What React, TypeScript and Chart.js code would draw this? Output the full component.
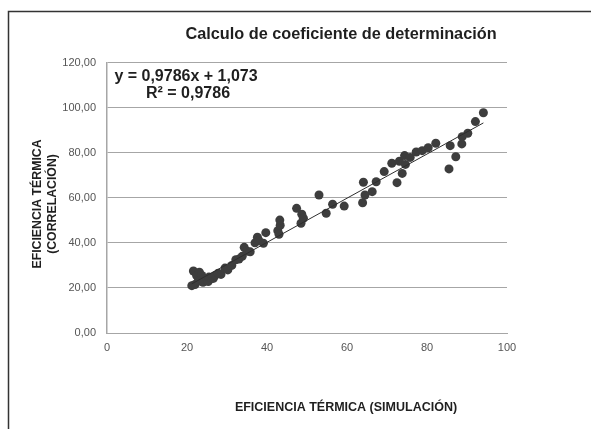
import React, { useEffect, useRef } from "react";
import { Chart, registerables } from "chart.js";

Chart.register(...registerables);

const TITLE = "Calculo de coeficiente de determinación";
const X_TITLE = "EFICIENCIA TÉRMICA (SIMULACIÓN)";
const Y_TITLE_LINES = ["EFICIENCIA TÉRMICA", "(CORRELACIÓN)"];
const EQUATION_LINES = ["y = 0,9786x + 1,073", "R² = 0,9786"];

const X_TICKS = [0, 20, 40, 60, 80, 100];
const Y_TICKS = [0, 20, 40, 60, 80, 100, 120];

// Simulation (x) values
const simX = [
  21.2, 22.0, 21.6, 22.4, 23.1, 23.7, 22.8, 24.0, 24.9, 25.3, 25.5, 26.2, 26.6, 27.0,
  27.8, 28.5, 29.5, 30.2, 31.2, 32.2, 33.0, 33.8, 34.3, 35.0, 35.8, 37.0, 37.6, 38.0,
  39.1, 39.7, 42.7, 43.0, 43.3, 43.2, 47.4, 48.5, 48.7, 49.1, 53.0, 54.8, 56.4, 59.3,
  63.9, 64.1, 64.5, 66.3, 67.3, 69.3, 71.2, 72.5, 73.1, 73.8, 74.4, 74.6, 75.8, 77.3,
  78.8, 80.3, 82.2, 85.5, 85.8, 87.2, 88.7, 88.8, 90.2, 92.1, 94.1,
];
// Correlation (y) values
const corrY = [
  21.0, 21.5, 27.5, 25.5, 27.0, 25.5, 23.0, 22.5, 23.5, 22.8, 24.8, 24.2, 24.3, 25.5,
  26.5, 26.0, 28.8, 28.0, 30.0, 32.5, 32.8, 34.0, 38.0, 36.3, 36.0, 40.0, 42.5, 41.0,
  39.8, 44.5, 45.4, 43.8, 47.8, 50.1, 55.3, 48.7, 52.7, 50.9, 61.2, 53.1, 57.1, 56.3,
  57.8, 66.9, 61.2, 62.7, 67.1, 71.6, 75.3, 66.7, 76.2, 70.8, 78.7, 74.8, 77.9, 80.3,
  80.9, 82.2, 84.2, 72.8, 83.1, 78.2, 83.9, 87.1, 88.6, 93.8, 97.7,
];
// Trendline end points
const trendX = [21.2, 94.1];
const trendY = [21.8, 93.2];

const FONT = "'Liberation Sans', Arial, sans-serif";

const textPlugin = {
  id: "customText",
  afterDraw(chart: any) {
    const ctx = chart.ctx;
    ctx.save();
    // outer frame (top + left)
    ctx.strokeStyle = "#333333";
    ctx.lineWidth = 1.5;
    ctx.beginPath();
    ctx.moveTo(8.5, 429);
    ctx.lineTo(8.5, 11.5);
    ctx.lineTo(591, 11.5);
    ctx.stroke();

    ctx.fillStyle = "#1f1f1f";
    ctx.textAlign = "center";
    ctx.textBaseline = "middle";
    ctx.font = `bold 16.3px ${FONT}`;
    ctx.fillText(TITLE, 341, 35);

    ctx.font = `bold 16px ${FONT}`;
    ctx.fillText(EQUATION_LINES[0], 186, 77);
    ctx.fillText(EQUATION_LINES[1], 188, 94);

    ctx.font = `bold 12.5px ${FONT}`;
    ctx.fillText(X_TITLE, 346, 408);

    ctx.font = `bold 12.3px ${FONT}`;
    ctx.save();
    ctx.translate(45, 204);
    ctx.rotate(-Math.PI / 2);
    ctx.fillText(Y_TITLE_LINES[0], 0, -7);
    ctx.fillText(Y_TITLE_LINES[1], 0, 8);
    ctx.restore();
    ctx.restore();
  },
};

export default function App() {
  const ref = useRef<HTMLCanvasElement | null>(null);
  useEffect(() => {
    if (!ref.current) return;
    const points = simX.map((x, i) => ({ x, y: corrY[i] }));
    const trend = trendX.map((x, i) => ({ x, y: trendY[i] }));
    const chart = new Chart(ref.current, {
      type: "scatter",
      data: {
        datasets: [
          {
            type: "line",
            data: trend,
            borderColor: "#2e2e2e",
            borderWidth: 1,
            pointRadius: 0,
            fill: false,
            order: 0,
          } as any,
          {
            data: points,
            backgroundColor: "#3d3d3d",
            borderColor: "#3d3d3d",
            pointRadius: 4.5,
            borderWidth: 0,
            order: 1,
          },
        ],
      },
      options: {
        responsive: false,
        animation: false,
        devicePixelRatio: 1,
        layout: { padding: { left: 57, top: 62.5, right: 84, bottom: 66 } },
        plugins: { legend: { display: false }, tooltip: { enabled: false }, title: { display: false } },
        scales: {
          x: {
            type: "linear",
            min: 0,
            max: 100,
            afterBuildTicks: (s: any) => { s.ticks = X_TICKS.map((v) => ({ value: v })); },
            afterFit: (s: any) => { s.height = 30; },
            ticks: { color: "#555555", font: { family: FONT, size: 11 }, padding: 8, maxRotation: 0 },
            grid: { display: false, drawTicks: false },
            border: { display: true, color: "#a6a6a6", width: 1 },
          },
          y: {
            type: "linear",
            min: 0,
            max: 120,
            afterBuildTicks: (s: any) => { s.ticks = Y_TICKS.map((v) => ({ value: v })); },
            afterFit: (s: any) => { s.width = 50; },
            ticks: {
              color: "#555555",
              font: { family: FONT, size: 11 },
              padding: 11,
              callback: (v: any) => Number(v).toFixed(2).replace(".", ","),
            },
            grid: { color: "#a6a6a6", lineWidth: 1, drawTicks: false },
            border: { display: true, color: "#a6a6a6", width: 1.5 },
          },
        },
      },
      plugins: [textPlugin],
    });
    return () => chart.destroy();
  }, []);
  return (
    <div style={{ position: "absolute", left: 0, top: 0, width: 591, height: 429, background: "#fff" }}>
      <canvas ref={ref} width={591} height={429} style={{ width: 591, height: 429, display: "block" }} />
    </div>
  );
}
